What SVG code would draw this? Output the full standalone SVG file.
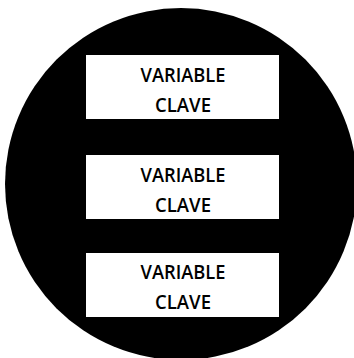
<svg xmlns="http://www.w3.org/2000/svg" width="354" height="358" viewBox="0 0 354 358">
<style>
.box{fill:#fff;stroke:none}
.t{font-family:"Open Sans","Noto Sans","Liberation Sans",sans-serif;font-size:19px;font-weight:600;fill:#000;text-anchor:middle}
</style>
<rect width="354" height="358" fill="#fff"/>
<g id="circle"><circle cx="181" cy="184" r="176" fill="#000"/></g>
<g id="connectors"></g>
<g id="node1"><rect class="box" x="86" y="55" width="193" height="64"/><text class="t" x="183" y="82" textLength="85" lengthAdjust="spacingAndGlyphs">VARIABLE</text><text class="t" x="183" y="112" textLength="56" lengthAdjust="spacingAndGlyphs">CLAVE</text></g>
<g id="node2"><rect class="box" x="86" y="155" width="193" height="64"/><text class="t" x="183" y="182" textLength="85" lengthAdjust="spacingAndGlyphs">VARIABLE</text><text class="t" x="183" y="212" textLength="56" lengthAdjust="spacingAndGlyphs">CLAVE</text></g>
<g id="node3"><rect class="box" x="86" y="253" width="193" height="64"/><text class="t" x="183" y="279" textLength="85" lengthAdjust="spacingAndGlyphs">VARIABLE</text><text class="t" x="183" y="309" textLength="56" lengthAdjust="spacingAndGlyphs">CLAVE</text></g>
</svg>
